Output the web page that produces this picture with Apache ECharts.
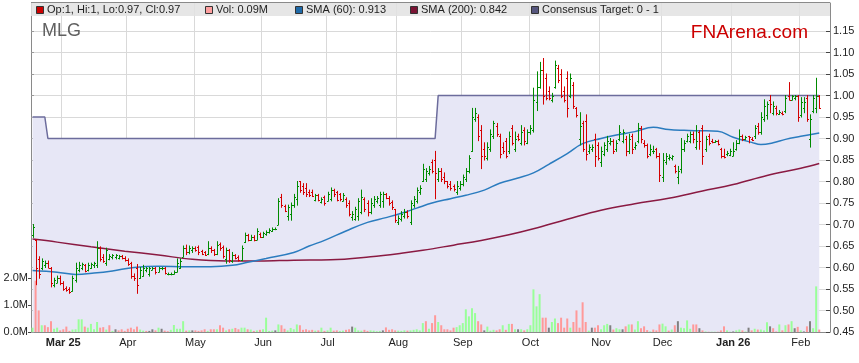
<!DOCTYPE html>
<html><head><meta charset="utf-8">
<script src="https://cdn.jsdelivr.net/npm/echarts@6/dist/echarts.min.js"></script>
<style>html,body{margin:0;padding:0;background:#fff}#c{width:859px;height:363px}</style>
</head><body><div id="c"></div>
<script>
// ---------------- DATA ----------------
const startDate = '2025-02-17';   // first trading day shown
const padDays = 3;                // empty sessions at right edge
const monthNames = ['Jan','Feb','Mar','Apr','May','Jun','Jul','Aug','Sep','Oct','Nov','Dec'];

const opens = [
.675,.665,.62,.60,.605,.61,.60,.56,.565,.575, .565,.553,.55,.545,.57,.595,.60,.605,.595,.60,
.605,.605,.645,.625,.61,.62,.625,.624,.622,.626, .623,.617,.61,.58,.60,.575,.58,.595,.585,.595,
.598,.59,.598,.60,.585,.585,.585,.59,.60,.625, .645,.635,.64,.645,.648,.638,.635,.632,.645,.64,
.632,.655,.648,.62,.64,.615,.628,.625,.618,.66, .675,.665,.672,.665,.678,.672,.678,.683,.686,.69,
.70,.765,.742,.72,.725,.745,.76,.80,.79,.785, .775,.775,.758,.768,.752,.765,.755,.76,.78,.775,
.77,.755,.76,.75,.718,.712,.72,.73,.76,.75, .73,.745,.755,.745,.755,.77,.762,.752,.735,.705,
.712,.72,.73,.705,.745,.755,.775,.80,.805,.82, .845,.85,.805,.825,.81,.80,.795,.79,.775,.785,
.795,.805,.825,.87,.945,.95,.92,.875,.855,.875, .905,.93,.905,.88,.895,.87,.925,.875,.905,.89,
.92,.89,.915,.92,.985,1.02,1.06,1.04,1.01,.99, 1.02,1.065,1.05,1.01,1.04,1.00,1.025,.97,.90,.935,
.94,.87,.875,.90,.885,.845,.865,.875,.89,.895, .875,.90,.895,.90,.87,.905,.88,.895,.925,.89,
.885,.865,.87,.875,.86,.81,.845,.855,.855,.835, .81,.83,.875,.895,.895,.91,.88,.915,.925,.875,
.905,.895,.893,.895,.875,.86,.865,.862,.86,.875, .89,.905,.90,.905,.90,.905,.93,.915,.945,.955,
.99,.96,.97,.958,.96,.965,1.00,.99,.995,1.00, .955,.97,.995,.90,.965,.97,1.00];
const highs = [
.70,.665,.625,.62,.615,.615,.60,.575,.58,.58, .567,.555,.553,.58,.61,.612,.61,.607,.61,.61,
.612,.66,.648,.63,.645,.63,.63,.63,.628,.628, .625,.62,.612,.585,.607,.60,.605,.60,.60,.60,
.60,.60,.60,.60,.587,.587,.592,.62,.62,.65, .652,.65,.648,.648,.65,.64,.637,.66,.648,.642,
.66,.657,.65,.645,.642,.635,.63,.627,.65,.68, .677,.675,.674,.69,.68,.682,.685,.69,.692,.692,
.76,.77,.745,.745,.75,.77,.80,.80,.795,.795, .78,.78,.77,.77,.762,.766,.775,.785,.782,.777,
.772,.772,.762,.755,.73,.74,.76,.78,.762,.755, .76,.765,.765,.775,.775,.772,.765,.755,.735,.72,
.73,.735,.732,.755,.765,.785,.79,.84,.83,.835, .85,.87,.83,.83,.82,.80,.80,.792,.80,.80,
.815,.83,.86,.97,.97,.955,.93,.89,.89,.92, .94,.935,.91,.89,.90,.915,.93,.915,.91,.93,
.925,.92,.93,1.017,1.055,1.077,1.086,1.05,1.02,1.005, 1.08,1.07,1.06,1.02,1.055,1.05,1.03,.972,.96,.94,
.955,.885,.885,.91,.89,.88,.89,.905,.90,.897, .895,.93,.92,.905,.91,.91,.89,.935,.928,.895,
.887,.885,.882,.877,.865,.865,.865,.862,.86,.838, .835,.90,.895,.91,.915,.915,.93,.918,.93,.905,
.91,.898,.895,.896,.877,.875,.87,.875,.89,.895, .92,.908,.905,.905,.902,.93,.935,.96,.99,.985,
1.00,.985,.975,.965,.962,1.00,1.03,1.00,1.00,1.00, .995,.995,1.00,.955,1.00,1.04,1.00];
const lows = [
.67,.56,.575,.595,.60,.60,.555,.555,.565,.56, .547,.545,.54,.545,.566,.59,.595,.59,.592,.598,
.60,.60,.615,.612,.605,.618,.62,.62,.62,.62, .615,.605,.575,.57,.54,.575,.58,.59,.58,.595,
.585,.59,.595,.585,.583,.583,.585,.59,.598,.625, .63,.632,.635,.638,.63,.63,.628,.63,.635,.628,
.63,.64,.622,.61,.612,.612,.62,.615,.616,.658, .662,.663,.662,.665,.67,.67,.675,.68,.684,.688,
.70,.74,.73,.71,.71,.74,.745,.775,.77,.765, .765,.765,.755,.755,.75,.745,.755,.755,.765,.755,
.755,.755,.74,.72,.71,.71,.71,.725,.73,.72, .725,.74,.75,.74,.74,.76,.745,.735,.705,.70,
.708,.715,.715,.70,.74,.75,.77,.80,.80,.815, .82,.76,.80,.80,.795,.785,.78,.778,.77,.78,
.79,.80,.82,.87,.94,.895,.83,.85,.85,.87, .90,.905,.855,.865,.855,.865,.885,.87,.895,.885,
.885,.888,.91,.915,.965,1.017,.98,.99,.99,.985, 1.017,1.03,.995,.985,.95,.995,.97,.95,.885,.87,
.85,.865,.87,.835,.85,.835,.86,.87,.885,.865, .87,.895,.89,.86,.865,.865,.875,.89,.89,.88,
.855,.86,.865,.855,.80,.80,.84,.85,.85,.82, .795,.82,.87,.892,.89,.89,.875,.875,.84,.87,
.885,.89,.891,.885,.855,.855,.86,.86,.86,.873, .888,.895,.897,.89,.895,.90,.91,.91,.94,.945,
.96,.955,.955,.956,.955,.96,.99,.99,.99,.94, .95,.96,.94,.88,.96,.96,.97];
const closes = [
.695,.60,.585,.615,.61,.60,.565,.57,.575,.565, .55,.548,.542,.575,.60,.605,.608,.592,.605,.607,
.61,.645,.62,.615,.64,.627,.628,.628,.626,.622, .617,.607,.58,.575,.56,.595,.60,.598,.598,.598,
.59,.598,.598,.587,.585,.586,.59,.61,.615,.645, .635,.645,.645,.64,.635,.632,.63,.645,.64,.632,
.652,.645,.627,.64,.617,.63,.622,.618,.645,.675, .665,.67,.665,.685,.672,.68,.683,.688,.69,.69,
.755,.745,.732,.74,.745,.765,.79,.78,.775,.77, .768,.767,.768,.758,.76,.75,.77,.78,.77,.758,
.76,.768,.745,.725,.725,.735,.755,.765,.735,.73, .75,.76,.762,.77,.77,.762,.75,.74,.71,.715,
.725,.73,.72,.75,.76,.78,.785,.83,.825,.83, .825,.82,.825,.805,.80,.79,.785,.782,.79,.795,
.81,.825,.855,.95,.96,.905,.86,.86,.88,.91, .935,.91,.865,.87,.86,.905,.89,.90,.90,.915,
.895,.915,.925,.99,1.02,1.06,1.00,.995,.995,1.00, 1.07,1.035,1.00,.99,.97,1.04,.975,.955,.93,.875,
.865,.88,.88,.86,.855,.87,.885,.895,.895,.87, .89,.915,.915,.87,.90,.875,.885,.925,.90,.885,
.86,.875,.87,.86,.815,.85,.86,.858,.859,.825, .825,.875,.89,.905,.91,.90,.895,.895,.86,.90,
.89,.892,.894,.888,.86,.858,.867,.872,.872,.89, .905,.90,.903,.903,.897,.925,.915,.95,.975,.98,
.98,.975,.96,.962,.958,.995,.99,1.00,1.00,.95, .985,.985,.945,.945,.995,1.00,.97];
const volumes = [
.16,1.9,.8,.25,.25,.18,.4,.12,.16,.06, .1,.2,.04,.09,.1,.47,.47,.2,.16,.3,
.1,.37,.16,.18,.09,.25,.04,.1,.06,.1, .04,.12,.16,.1,.2,.09,.05,.04,.04,.1,
.06,.16,.12,.05,.03,.08,.26,.12,.12,.4, .05,.06,.06,.06,.04,.06,.1,.04,.1,.1,
.1,.25,.16,.06,.1,.12,.15,.1,.16,.16, .1,.09,.04,.06,.08,.1,.53,.04,.05,.06,
.28,.25,.12,.06,.15,.1,.28,.25,.08,.1, .06,.08,.05,.06,.16,.04,.06,.16,.05,.06,
.04,.05,.08,.1,.2,.16,.06,.05,.08,.04, .06,.05,.03,.04,.06,.17,.08,.1,.06,.05,
.04,.06,.05,.06,.08,.1,.06,.33,.4,.12, .33,.62,.37,.25,.1,.1,.06,.16,.18,.25,
.33,.84,.58,.88,.7,.4,.28,.06,.2,.05, .08,.06,.1,.25,.08,.3,.3,.1,.1,.1,
.06,.1,.25,1.58,.95,1.4,.53,.53,.16,.37, .5,.33,.53,.16,.5,.16,.37,.8,.16,1.1,
.37,.05,.16,.16,.25,.1,.25,.3,.25,.09, .14,.1,.1,.21,.28,.28,.09,.4,.14,.21,
.07,.02,.09,.06,.28,.31,.21,.05,.09,.25, .4,.16,.14,.43,.12,.28,.28,.14,.06,.02,
.01,.01,.01,.01,.06,.21,.06,.01,.02,.06, .09,.06,.02,.16,.06,.12,.09,.09,.06,.36,
.21,.14,.02,.28,.06,.25,.28,.4,.14,.19, .06,.02,.21,.4,.14,1.69,.09];

// consensus target: level and first session index of each level
const targetLevels = [0.95, 0.90, 1.00];
const targetStarts = [0, 5, 132];

// moving averages: [session index, value]
const sma60 = [[0,.593],[8,.589],[14,.584],[20,.587],[26,.592],[33,.600],[41,.603],[50,.602],[58,.602],[65,.605],[70,.612],[76,.621],[85,.635],[90,.650],[95,.663],[102,.685],[109,.705],[115,.716],[120,.726],[125,.738],[130,.750],[136,.760],[141,.768],[147,.780],[152,.796],[158,.808],[163,.820],[168,.840],[174,.865],[179,.888],[185,.900],[190,.908],[196,.916],[202,.926],[207,.921],[212,.919],[217,.918],[223,.917],[228,.903],[234,.891],[237,.886],[241,.890],[245,.898],[250,.905],[256,.913]];
const sma200 = [[0,.666],[8,.659],[19,.648],[30,.638],[41,.629],[52,.619],[63,.615],[74,.615],[85,.617],[97,.618],[110,.625],[120,.633],[127,.640],[137,.652],[146,.663],[155,.676],[163,.690],[174,.712],[185,.733],[196,.748],[207,.761],[218,.778],[228,.793],[239,.814],[250,.831],[256,.842]];

const priceTicks = [0.45,0.50,0.55,0.60,0.65,0.70,0.75,0.80,0.85,0.90,0.95,1.00,1.05,1.10,1.15];
const volTicks = [0,1,2];

// ---------------- BUILD ----------------
function weekdays(start, n){
  const out=[]; const d=new Date(start+'T00:00:00Z');
  while(out.length<n){const wd=d.getUTCDay(); if(wd!==0&&wd!==6) out.push(d.toISOString().slice(0,10)); d.setUTCDate(d.getUTCDate()+1);}
  return out;
}
const N = closes.length;
const dates = weekdays(startDate, N + padDays);
const monthStart = dates.map((d,i)=> i>0 && d.slice(5,7)!==dates[i-1].slice(5,7));
const firstLabel = monthStart.indexOf(true);

const target = [];
for (let i=0;i<N;i++){ let lv=targetLevels[0]; for(let k=0;k<targetStarts.length;k++){ if(i>=targetStarts[k]) lv=targetLevels[k]; } target.push(lv); }

const ohlc = closes.map((c,i)=>[i, opens[i], c, lows[i], highs[i]]);
const volData = volumes.map((v,i)=>{
  let col = '#99ff99';
  if (i>0){ if (closes[i]<closes[i-1]) col='#ff9999'; else if (closes[i]===closes[i-1]) col='#808080'; }
  return {value:v, itemStyle:{color:col}};
});

const FONT = 'Liberation Sans, Arial, sans-serif';
const GRID_TOP = 3, GRID_BOTTOM = 31, PLOT_H = 363 - GRID_TOP - GRID_BOTTOM;
const priceMin = 0.45, pricePerPx = 1/430;
const priceMax = priceMin + PLOT_H * pricePerPx;
const volMax = PLOT_H / 27;

const last = N-1;
const fmt = v => String(+v.toFixed(3));
const legendItems = [
  {x:36, fill:'#cc0000', text:`Op:${fmt(opens[last])}, Hi:${fmt(highs[last])}, Lo:${fmt(lows[last])}, Cl:${fmt(closes[last])}`},
  {x:205, fill:'#ff9f9f', text:`Vol: ${volumes[last].toFixed(2)}M`},
  {x:295, fill:'#1f6aa8', text:`SMA (60): ${sma60[sma60.length-1][1].toFixed(3)}`},
  {x:410, fill:'#7a1434', text:`SMA (200): ${sma200[sma200.length-1][1].toFixed(3)}`},
  {x:531, fill:'#56567e', text:'Consensus Target: 0 - 1'}
];
const graphics = [
  {type:'rect', shape:{x:31,y:2,width:799,height:14}, style:{fill:'#e2e2e2', opacity:0.85}, z:10, silent:true},
  {type:'line', shape:{x1:31,y1:2.5,x2:830,y2:2.5}, style:{stroke:'#8a8a8a',lineWidth:1}, z:11},
  {type:'text', x:42, y:31, style:{text:'MLG', font:'18px '+FONT, fill:'#606060', textVerticalAlign:'middle'}, z:11},
  {type:'text', x:808, y:33, style:{text:'FNArena.com', font:'19px '+FONT, fill:'#cc0000', textAlign:'right', textVerticalAlign:'middle'}, z:11}
];
legendItems.forEach(it=>{
  graphics.push({type:'rect', shape:{x:it.x+0.5,y:6.5,width:7,height:7}, style:{fill:it.fill, stroke:'#333', lineWidth:1}, z:11});
  graphics.push({type:'text', x:it.x+11, y:10, style:{text:it.text, font:'11px '+FONT, fill:'#222', textVerticalAlign:'middle'}, z:11});
});

const chart = echarts.init(document.getElementById('c'), null, {renderer:'canvas'});
chart.setOption({
  animation:false,
  backgroundColor:'#ffffff',
  grid:{left:31, right:29, top:GRID_TOP, bottom:GRID_BOTTOM, containLabel:false},
  xAxis:{
    type:'category', data:dates, boundaryGap:true,
    axisLine:{lineStyle:{color:'#8a8a8a'}},
    axisTick:{show:false},
    axisLabel:{
      interval:(i)=>monthStart[i], margin:5, fontSize:11, fontFamily:FONT, color:'#222',
      formatter:(v,i)=>{ const m=+v.slice(5,7)-1; if(m===0||i===firstLabel) return '{b|'+monthNames[m]+' '+v.slice(2,4)+'}'; return monthNames[m]; },
      rich:{b:{fontWeight:'bold', fontSize:11, fontFamily:FONT, color:'#222'}}
    },
    splitLine:{show:true, interval:(i)=>monthStart[i], lineStyle:{color:'#d9d9d9', width:1}}
  },
  yAxis:[
    {type:'value', position:'right', min:priceMin, max:priceMax, interval:0.05,
     axisLine:{show:true, lineStyle:{color:'#8a8a8a'}},
     axisTick:{show:true, inside:true, length:4, customValues:priceTicks, lineStyle:{color:'#444'}},
     axisLabel:{customValues:priceTicks, formatter:v=>v.toFixed(2), fontSize:11, fontFamily:FONT, color:'#222', margin:3},
     splitLine:{show:true, lineStyle:{color:'#d9d9d9', width:1}}},
    {type:'value', position:'left', min:0, max:volMax,
     axisLine:{show:true, lineStyle:{color:'#8a8a8a'}},
     axisTick:{show:true, inside:false, length:3, customValues:volTicks, lineStyle:{color:'#444'}},
     axisLabel:{customValues:volTicks, formatter:v=>v.toFixed(1)+'M', fontSize:11, fontFamily:FONT, color:'#222', margin:3},
     splitLine:{show:false}},
    {type:'value', position:'left', min:priceMin, max:priceMax, interval:0.05,
     axisLine:{show:false},
     axisTick:{show:true, inside:true, length:3, customValues:priceTicks, lineStyle:{color:'#999'}},
     axisLabel:{show:false}, splitLine:{show:false}}
  ],
  graphic:graphics,
  series:[
    {name:'Consensus Target', type:'line', yAxisIndex:0, data:target, showSymbol:false, symbol:'none',
     lineStyle:{color:'#6c6c9c', width:1.5}, areaStyle:{color:'#e7e7f6', opacity:1, origin:'start'}, z:1, silent:true},
    {name:'Vol', type:'bar', yAxisIndex:1, data:volData, barWidth:2, z:2, silent:true},
    {name:'SMA (200)', type:'line', yAxisIndex:0, data:sma200, smooth:0.4, showSymbol:false, symbol:'none',
     lineStyle:{color:'#8a1a42', width:1.5}, z:3, silent:true},
    {name:'SMA (60)', type:'line', yAxisIndex:0, data:sma60, smooth:0.4, showSymbol:false, symbol:'none',
     lineStyle:{color:'#2b7cbf', width:1.5}, z:3, silent:true},
    {name:'OHLC', type:'custom', yAxisIndex:0, data:ohlc, encode:{x:0, y:[1,2,3,4]}, z:4, silent:true,
     renderItem:(params, api)=>{
       const i=api.value(0), o=api.value(1), c=api.value(2), l=api.value(3), h=api.value(4);
       const pH=api.coord([i,h]), pL=api.coord([i,l]), pO=api.coord([i,o]), pC=api.coord([i,c]);
       const col = c>=o ? '#008a00' : '#d40000';
       const x = Math.round(pH[0])+0.5, w=1.5;
       const yO=Math.round(pO[1])+0.5, yC=Math.round(pC[1])+0.5;
       const st={stroke:col, lineWidth:1};
       return {type:'group', children:[
         {type:'line', shape:{x1:x,y1:pH[1]-0.5,x2:x,y2:pL[1]+0.5}, style:st},
         {type:'line', shape:{x1:x-w,y1:yO,x2:x,y2:yO}, style:st},
         {type:'line', shape:{x1:x,y1:yC,x2:x+w,y2:yC}, style:st}
       ]};
     }}
  ]
});
</script></body></html>
